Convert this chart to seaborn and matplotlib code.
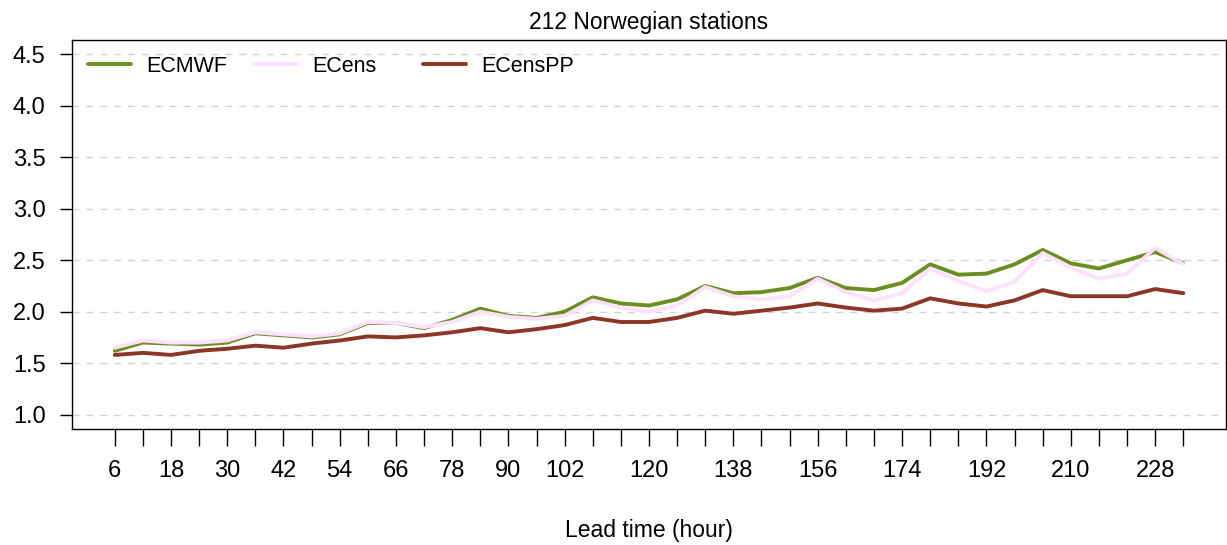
import numpy as np
import pandas as pd
import matplotlib
matplotlib.use("Agg")
import matplotlib.pyplot as plt
from matplotlib.legend import Legend
import seaborn as sns

# Lead times (hours) and scores for each forecast system
lead_hours = list(range(6, 235, 6))
ecmwf = [1.62, 1.70, 1.69, 1.68, 1.70, 1.79, 1.77, 1.75, 1.78, 1.89,
         1.89, 1.84, 1.92, 2.03, 1.96, 1.94, 2.00, 2.14, 2.08, 2.06,
         2.12, 2.25, 2.18, 2.19, 2.23, 2.33, 2.23, 2.21, 2.28, 2.46,
         2.36, 2.37, 2.46, 2.60, 2.47, 2.42, 2.50, 2.58, 2.47]
ecens = [1.65, 1.72, 1.70, 1.70, 1.72, 1.80, 1.78, 1.76, 1.79, 1.90,
         1.89, 1.85, 1.90, 2.00, 1.95, 1.93, 1.96, 2.11, 2.04, 2.00,
         2.06, 2.24, 2.15, 2.12, 2.15, 2.32, 2.19, 2.11, 2.18, 2.42,
         2.30, 2.20, 2.29, 2.57, 2.43, 2.32, 2.37, 2.62, 2.46]
ecenspp = [1.58, 1.60, 1.58, 1.62, 1.64, 1.67, 1.65, 1.69, 1.72, 1.76,
           1.75, 1.77, 1.80, 1.84, 1.80, 1.83, 1.87, 1.94, 1.90, 1.90,
           1.94, 2.01, 1.98, 2.01, 2.04, 2.08, 2.04, 2.01, 2.03, 2.13,
           2.08, 2.05, 2.11, 2.21, 2.15, 2.15, 2.15, 2.22, 2.18]
series_names = ["ECMWF", "ECens", "ECensPP"]
labelled_hours = [6, 18, 30, 42, 54, 66, 78, 90, 102, 120, 138, 156, 174,
                  192, 210, 228]
y_ticks = [1.0, 1.5, 2.0, 2.5, 3.0, 3.5, 4.0, 4.5]

colors = {"ECMWF": "#6B8E23", "ECens": "#FFE1FF", "ECensPP": "#8B3626"}

df = pd.DataFrame({
    "lead": lead_hours * 3,
    "score": ecmwf + ecens + ecenspp,
    "model": sum([[n] * len(lead_hours) for n in series_names], []),
})

sns.set_style("ticks")
plt.rcParams["font.family"] = ["Liberation Sans", "DejaVu Sans"]
plt.rcParams["text.color"] = "black"
plt.rcParams["axes.labelcolor"] = "black"
plt.rcParams["xtick.color"] = "black"
plt.rcParams["ytick.color"] = "black"

fig = plt.figure(figsize=(12.27, 5.45), dpi=100)
ax = fig.add_axes([0.0587, 0.2128, 0.9405, 0.7138])

sns.lineplot(data=df, x="lead", y="score", hue="model",
             hue_order=series_names, palette=colors, linewidth=2.8,
             legend=False, ax=ax, zorder=3)

# axis ranges with a 4% margin on each side
x0, x1 = lead_hours[0], lead_hours[-1]
dx = (x1 - x0) * 0.04
ax.set_xlim(x0 - dx, x1 + dx)
dy = (y_ticks[-1] - y_ticks[0]) * 0.04
ax.set_ylim(y_ticks[0] - dy, y_ticks[-1] + dy)

ax.set_xticks(lead_hours)
ax.set_xticklabels([str(h) if h in labelled_hours else "" for h in lead_hours])
ax.set_yticks(y_ticks)
ax.set_yticklabels([f"{v:.1f}" for v in y_ticks])

for v in y_ticks:
    ax.axhline(v, color="#D3D3D3", lw=1, ls=(0, (5, 5)), zorder=1)

ax.tick_params(axis="x", length=12, width=1, pad=10, labelsize=17,
               colors="black", direction="out")
ax.tick_params(axis="y", length=9, width=1, pad=10, labelsize=17,
               colors="black", direction="out")
for s in ax.spines.values():
    s.set_visible(True)
    s.set_color("black")
    s.set_linewidth(1)

ax.set_xlabel("Lead time (hour)", fontsize=16.5, labelpad=27, color="black")
ax.set_ylabel("")
ax.set_title("212 Norwegian stations", fontsize=16.5, pad=8, color="black")

# one legend entry per column, evenly spaced
handles = ax.get_lines()[:3]
col_x = [0.0139, 0.158, 0.304]
for h, name, cx in zip(handles, series_names, col_x):
    leg = Legend(ax, [h], [name], loc="center left",
                 bbox_to_anchor=(cx, 0.933), frameon=False, fontsize=15.5,
                 handlelength=2.0, handletextpad=0.7, borderpad=0,
                 borderaxespad=0)
    ax.add_artist(leg)

fig.savefig("out.png", dpi=100)
